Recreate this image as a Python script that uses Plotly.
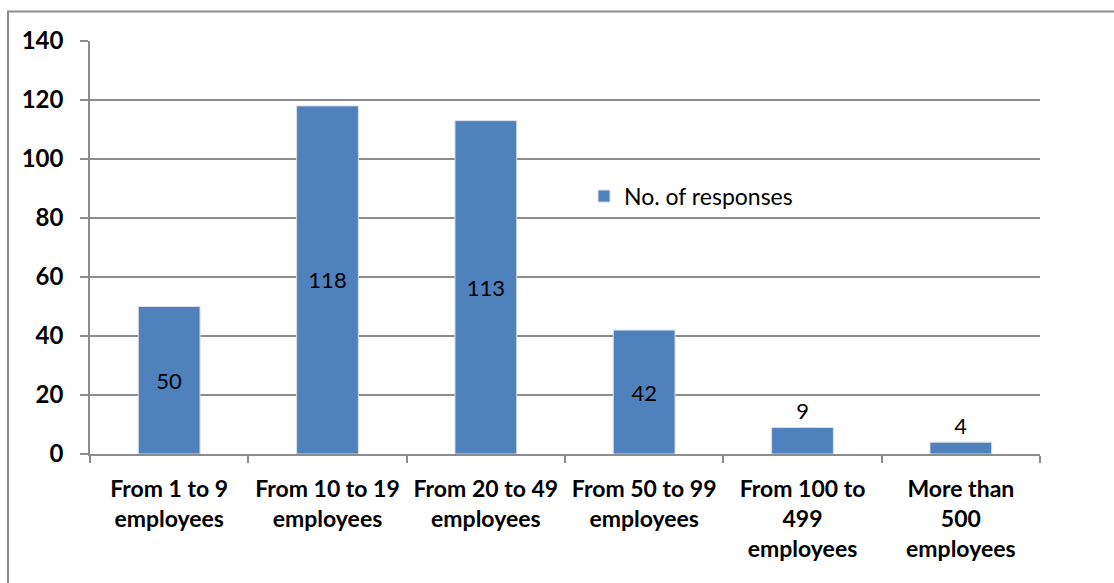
import plotly.graph_objects as go

# Company size categories and number of survey responses
categories = [
    "From 1 to 9<br>employees",
    "From 10 to 19<br>employees",
    "From 20 to 49<br>employees",
    "From 50 to 99<br>employees",
    "From 100 to<br>499<br>employees",
    "More than<br>500<br>employees",
]
responses = [50, 118, 113, 42, 9, 4]
label_positions = ["inside", "inside", "inside", "inside", "outside", "outside"]
y_ticks = [0, 20, 40, 60, 80, 100, 120, 140]

W, H = 1114, 583
L, R, T, B = 90, 1040, 40.5, 454.5

BAR_COLOR = "#4F81BD"
GRID = "#8C8C8C"
FONT = "Lato, 'Open Sans', sans-serif"

fig = go.Figure()
fig.add_trace(
    go.Bar(
        x=categories,
        y=responses,
        name="No. of responses",
        marker=dict(color=BAR_COLOR, line=dict(color="#D9DEE8", width=1)),
        width=0.39,
        text=[str(v) for v in responses],
        textposition=label_positions,
        insidetextanchor="middle",
        textfont=dict(family=FONT, size=22, color="black"),
        insidetextfont=dict(family=FONT, size=22, color="black"),
        outsidetextfont=dict(family=FONT, size=22, color="black"),
        cliponaxis=False,
        showlegend=True,
    )
)

# outer chart frame
def px_to_paper_x(px):
    return (px - L) / (R - L)

def px_to_paper_y(py):
    return (B - py) / (B - T)

fig.add_shape(
    type="rect",
    xref="paper", yref="paper",
    x0=px_to_paper_x(8), x1=px_to_paper_x(1200),
    y0=px_to_paper_y(700), y1=px_to_paper_y(11),
    line=dict(color="#8C8C8C", width=2),
    fillcolor="rgba(0,0,0,0)",
    layer="below",
)

fig.update_layout(
    width=W,
    height=H,
    margin=dict(l=L, r=W - R, t=T, b=H - B),
    paper_bgcolor="white",
    plot_bgcolor="white",
    font=dict(family=FONT, color="black"),
    uniformtext=dict(mode=False),
    legend=dict(
        x=px_to_paper_x(584),
        y=px_to_paper_y(196),
        xanchor="left",
        yanchor="middle",
        bgcolor="rgba(0,0,0,0)",
        font=dict(family=FONT, size=23, color="black"),
        itemwidth=30,
    ),
    xaxis=dict(
        type="category",
        showgrid=False,
        showline=True,
        linecolor=GRID,
        linewidth=1.5,
        ticks="outside",
        tickson="boundaries",
        ticklen=7,
        tickcolor=GRID,
        tickwidth=1.5,
        ticklabelstandoff=14,
        tickfont=dict(family=FONT, size=23, color="black", weight="bold"),
        fixedrange=True,
    ),
    yaxis=dict(
        range=[0, 140],
        tickvals=y_ticks,
        showgrid=True,
        gridcolor=GRID,
        gridwidth=1.5,
        showline=True,
        linecolor=GRID,
        linewidth=1.5,
        ticks="outside",
        ticklen=8,
        tickcolor=GRID,
        tickwidth=1.5,
        ticklabelstandoff=12,
        tickfont=dict(family=FONT, size=24, color="black", weight="bold"),
        zeroline=False,
        fixedrange=True,
    ),
)

fig.write_html("out.html")
